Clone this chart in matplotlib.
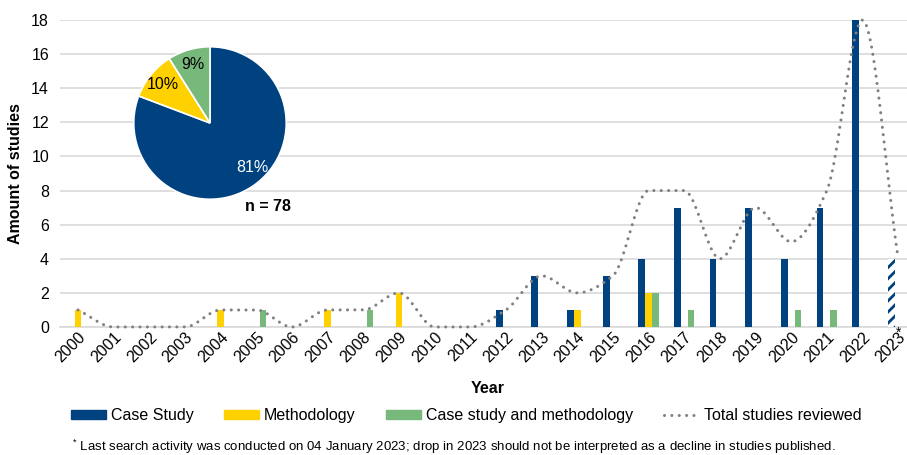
import matplotlib
matplotlib.use("Agg")
import matplotlib.pyplot as plt
from matplotlib.lines import Line2D
from matplotlib.patches import Patch
import numpy as np

plt.rcParams['font.family'] = ['Liberation Sans', 'DejaVu Sans']
plt.rcParams['mathtext.default'] = 'regular'
plt.rcParams['hatch.linewidth'] = 2.0

years = [str(y) for y in range(2000, 2024)]
case_study = [0, 0, 0, 0, 0, 0, 0, 0, 0, 0, 0, 0, 1, 3, 1, 3, 4, 7, 4, 7, 4, 7, 18, 4]
methodology = [1, 0, 0, 0, 1, 0, 0, 1, 0, 2, 0, 0, 0, 0, 1, 0, 2, 0, 0, 0, 0, 0, 0, 0]
both = [0, 0, 0, 0, 0, 1, 0, 0, 1, 0, 0, 0, 0, 0, 0, 0, 2, 1, 0, 0, 1, 1, 0, 0]
total = [1, 0, 0, 0, 1, 1, 0, 1, 1, 2, 0, 0, 1, 3, 2, 3, 8, 8, 4, 7, 5, 8, 18, 4]
pie_labels = ['Case Study', 'Methodology', 'Case study and methodology']
n_total = 78

BLUE = '#00427F'
YELLOW = '#FFD100'
GREEN = '#77B87B'
GREY = '#808080'


def smooth(xs, ys, n=24):
    # monotone cubic (Fritsch-Carlson) so the curve doesn't overshoot the points
    xs = np.asarray(xs, float)
    ys = np.asarray(ys, float)
    h = np.diff(xs)
    delta = np.diff(ys) / h
    m = np.zeros_like(ys)
    m[0], m[-1] = delta[0], delta[-1]
    for i in range(1, len(ys) - 1):
        if delta[i - 1] * delta[i] > 0:
            w1 = 2 * h[i] + h[i - 1]
            w2 = h[i] + 2 * h[i - 1]
            m[i] = (w1 + w2) / (w1 / delta[i - 1] + w2 / delta[i])
    out_x, out_y = [], []
    for i in range(len(xs) - 1):
        t = np.linspace(0, 1, n)
        if i > 0:
            t = t[1:]
        h00 = 2 * t ** 3 - 3 * t ** 2 + 1
        h10 = t ** 3 - 2 * t ** 2 + t
        h01 = -2 * t ** 3 + 3 * t ** 2
        h11 = t ** 3 - t ** 2
        out_x.append(xs[i] + t * h[i])
        out_y.append(h00 * ys[i] + h10 * h[i] * m[i] + h01 * ys[i + 1] + h11 * h[i] * m[i + 1])
    return np.concatenate(out_x), np.concatenate(out_y)


fig = plt.figure(figsize=(9.07, 4.55), dpi=100)
ax = fig.add_axes([60.2 / 907, 1 - 327 / 455, 855.8 / 907, 307 / 455])

x = np.arange(len(years))
w = 0.19
# last year (partial) drawn hatched
ax.bar(x[:-1] - w, case_study[:-1], w, color=BLUE, zorder=3)
ax.bar(x[-1] - w, case_study[-1], w, color='white', edgecolor=BLUE, hatch='///',
       linewidth=0, zorder=3)
ax.bar(x, methodology, w, color=YELLOW, zorder=3)
ax.bar(x + w, both, w, color=GREEN, zorder=3)

cx, cy = smooth(x, total)
ax.plot(cx, cy, color=GREY, lw=2.2, linestyle=(0, (0.01, 2.4)),
        dash_capstyle='round', zorder=4, clip_on=False)

ax.set_xlim(-0.5, len(years) - 0.5)
ax.set_ylim(0, 18)
ax.set_yticks(range(0, 19, 2))
ax.tick_params(axis='y', labelsize=11.5, length=0, pad=8)
ax.tick_params(axis='x', labelsize=11.5, length=0, pad=2)
ax.set_xticks(x)
ax.set_xticklabels(years, rotation=45, ha='right', rotation_mode='anchor')
ax.grid(axis='y', color='#D9D9D9', lw=1.2, zorder=0)
for s in ['top', 'right', 'left']:
    ax.spines[s].set_visible(False)
ax.spines['bottom'].set_color('#D9D9D9')
ax.spines['bottom'].set_linewidth(1.2)
ax.set_ylabel('Amount of studies', fontsize=11.5, fontweight='bold', labelpad=6)
ax.set_xlabel('Year', fontsize=11.5, fontweight='bold', labelpad=11)
# asterisk on the 2023 label
fig.text(899 / 907, 1 - 333 / 455, '*', ha='center', va='center', fontsize=10)

handles = [Patch(color=BLUE), Patch(color=YELLOW), Patch(color=GREEN),
           Line2D([0], [0], color=GREY, lw=2.2, linestyle=(0, (0.01, 2.4)),
                  dash_capstyle='round')]
fig.legend(handles, pie_labels + ['Total studies reviewed'], loc='center',
           bbox_to_anchor=(0.514, 0.086), ncol=4, frameon=False, fontsize=11.5,
           handlelength=2.2, handleheight=0.45, columnspacing=1.9, handletextpad=0.3)

fig.text(0.5, 1 - 447 / 455, '$^{*}$ Last search activity was conducted on 04 January 2023; '
         'drop in 2023 should not be interpreted as a decline in studies published.',
         ha='center', va='center', fontsize=9.5)

pax = fig.add_axes([133 / 907, 1 - 200 / 455, 154 / 907, 154 / 455])
pie_vals = [sum(case_study), sum(methodology), sum(both)]
wedges, texts, autotexts = pax.pie(pie_vals, colors=[BLUE, YELLOW, GREEN], startangle=90,
                                   counterclock=False, autopct='%1.0f%%', pctdistance=0.8,
                                   wedgeprops=dict(edgecolor='white', linewidth=1.2),
                                   textprops=dict(fontsize=11.5))
autotexts[0].set_color('white')
autotexts[0].set_position((0.56, -0.58))
pax.set_xlim(-1.01, 1.01)
pax.set_ylim(-1.01, 1.01)
pax.set_aspect('equal')
fig.text(268 / 907, 1 - 207 / 455, 'n = %d' % n_total, ha='center', va='center',
         fontsize=11.5, fontweight='bold')

fig.savefig('out.png', dpi=100)
